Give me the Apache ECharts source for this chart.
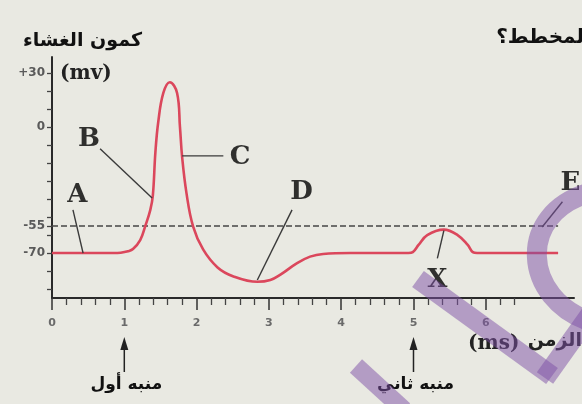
<!DOCTYPE html>
<html>
<head>
<meta charset="utf-8">
<script src="https://cdn.jsdelivr.net/npm/echarts@6/dist/echarts.min.js"></script>
<style>
  html, body { margin: 0; padding: 0; background: #e9e9e2; }
  #box { width: 582px; height: 404px; }
</style>
</head>
<body>
<div id="box"></div>
<script>
// membrane potential curve (time in ms, potential in mV)
var timeMs = [0, 0.85, 0.95, 1.05, 1.12, 1.22, 1.29, 1.36, 1.395, 1.43, 1.47, 1.54, 1.63, 1.73, 1.77, 1.80, 1.86, 1.95, 2.09, 2.29, 2.51, 2.84, 3.02, 3.16, 3.39, 3.57, 3.75, 4.13, 4.93, 4.99, 5.07, 5.19, 5.42, 5.61, 5.75, 5.82, 5.88, 7.0];
var potential = [-70, -70, -69.8, -69, -67.8, -62.8, -55, -46, -38, -14, 3, 19, 25, 19, 0, -16.7, -36.7, -55, -68, -78, -83, -86, -85, -82, -75.6, -72, -70.5, -70, -70, -69.5, -65.5, -60, -57, -60, -65.5, -69.5, -70, -70];

// threshold line
var threshold = -55;
var thresholdEnd = 7.0;

// axis ticks / labels
var yLabels = [30, 0, -55, -70];
var yTicks = [-90, -80, -70, -60, -55, -50, -40, -30, -20, -10, 0, 10, 20, 30];
var xLabels = [0, 1, 2, 3, 4, 5, 6];
var xMinorTicks = [0.2, 0.4, 0.6, 0.8, 1.2, 1.4, 1.6, 1.8, 2.2, 2.4, 2.6, 2.8, 3.2, 3.4, 3.6, 3.8, 4.2, 4.4, 4.6, 4.8, 5.2, 5.4, 5.6, 5.8, 6.2, 6.4];

// letter annotations and their pointer lines
var markNames = ['A', 'B', 'C', 'D', 'E', 'X'];
var markPos = [[0.35, -38], [0.51, -7], [2.60, -17], [3.45, -36], [7.17, -31], [5.33, -85]];
var leaderFrom = [[0.29, -46], [0.665, -12], [1.80, -16], [3.32, -46], [7.06, -41.5], [5.33, -73]];
var leaderTo = [[0.43, -70], [1.385, -39.4], [2.37, -16], [2.84, -85], [6.78, -55.5], [5.42, -57.5]];

// stimuli
var stimTimes = [1, 5];
var stimNames = ['منبه أول', 'منبه ثاني'];

var box = document.getElementById('box');
var myChart = echarts.init(box);

var series = [];
series.push({
  type: 'line',
  data: [[0, threshold], [thresholdEnd, threshold]],
  symbol: 'none',
  silent: true,
  lineStyle: { color: '#454545', width: 1.5, type: [6, 3] },
  z: 2
});
series.push({
  type: 'line',
  data: timeMs.map(function (t, i) { return [t, potential[i]]; }),
  symbol: 'none',
  smooth: 0.4,
  silent: true,
  lineStyle: { color: '#db475c', width: 2.6 },
  z: 3
});
for (var i = 0; i < markNames.length; i++) {
  series.push({
    type: 'line',
    data: [leaderFrom[i], leaderTo[i]],
    symbol: 'none',
    silent: true,
    lineStyle: { color: '#3a3a3a', width: 1.4 },
    z: 4
  });
}
series.push({
  type: 'scatter',
  symbolSize: 0,
  silent: true,
  data: markNames.map(function (n, i) { return { name: n, value: markPos[i] }; }),
  label: {
    show: true,
    position: 'inside',
    formatter: '{b}',
    fontFamily: 'DejaVu Serif',
    fontWeight: 'bold',
    fontSize: 26,
    color: '#000'
  },
  z: 5
});

var option = {
  backgroundColor: '#e9e9e2',
  animation: false,
  grid: { left: 52, right: 8, top: 57, height: 241 },
  xAxis: [{
    type: 'value',
    min: 0,
    max: 7.22,
    position: 'bottom',
    axisLine: { onZero: false, lineStyle: { color: '#2a2a2a', width: 2 } },
    axisTick: { customValues: xLabels, length: 12, lineStyle: { color: '#333', width: 1.5 } },
    axisLabel: {
      customValues: xLabels,
      margin: 20,
      fontFamily: 'DejaVu Sans',
      fontWeight: 'bold',
      fontSize: 11,
      color: '#6a6a6a'
    },
    splitLine: { show: false }
  }, {
    type: 'value',
    min: 0,
    max: 7.22,
    position: 'bottom',
    axisLine: { show: false, onZero: false },
    axisTick: { customValues: xMinorTicks, length: 7, lineStyle: { color: '#444', width: 1.3 } },
    axisLabel: { show: false },
    splitLine: { show: false }
  }],
  yAxis: {
    type: 'value',
    min: -95,
    max: 39,
    axisLine: { show: true, onZero: false, lineStyle: { color: '#2a2a2a', width: 2 } },
    axisTick: { customValues: yTicks, length: 5, lineStyle: { color: '#444', width: 1.3 } },
    axisLabel: {
      customValues: yLabels,
      margin: 7,
      fontFamily: 'DejaVu Sans',
      fontWeight: 'bold',
      fontSize: 12,
      color: '#5a5a5a',
      formatter: function (v) { return v > 0 ? '+' + v : String(v); }
    },
    splitLine: { show: false }
  },
  series: series
};
myChart.setOption(option);

// texts and stimulus arrows, placed from the axes
var graphics = [
  { type: 'text', x: 142, y: 41, style: { text: 'كمون الغشاء', font: 'bold 19px "DejaVu Sans"', fill: '#111', textAlign: 'right', textVerticalAlign: 'middle' } },
  { type: 'text', x: 60, y: 74, style: { text: '(mv)', font: 'bold 20px "DejaVu Serif"', fill: '#222', textAlign: 'left', textVerticalAlign: 'middle' } },
  { type: 'text', x: 584, y: 38, style: { text: 'لمخطط؟', font: 'bold 20px "DejaVu Sans"', fill: '#111', textAlign: 'right', textVerticalAlign: 'middle' } },
  { type: 'text', x: 468, y: 344, style: { text: '(ms)', font: 'bold 20px "DejaVu Serif"', fill: '#222', textAlign: 'left', textVerticalAlign: 'middle' } },
  { type: 'text', x: 582, y: 341, style: { text: 'الزمن', font: 'bold 19px "DejaVu Sans"', fill: '#222', textAlign: 'right', textVerticalAlign: 'middle' } }
];
stimTimes.forEach(function (t, i) {
  var px = myChart.convertToPixel({ xAxisIndex: 0 }, t);
  graphics.push({ type: 'line', shape: { x1: px, y1: 372, x2: px, y2: 345 }, style: { stroke: '#222', lineWidth: 1.5 } });
  graphics.push({ type: 'polygon', shape: { points: [[px, 337], [px - 4, 350], [px + 4, 350]] }, style: { fill: '#222' } });
  graphics.push({ type: 'text', x: px + 2, y: 385, style: { text: stimNames[i], font: 'bold 17px "DejaVu Sans"', fill: '#111', textAlign: 'center', textVerticalAlign: 'middle' } });
});

// purple watermark strokes on top
var wm = 'rgba(125, 80, 165, 0.5)';
graphics.push({ type: 'line', z: 100, shape: { x1: 418, y1: 279, x2: 552, y2: 376 }, style: { stroke: wm, lineWidth: 20, lineCap: 'butt' } });
graphics.push({ type: 'line', z: 100, shape: { x1: 545, y1: 378, x2: 592, y2: 312 }, style: { stroke: wm, lineWidth: 20, lineCap: 'butt' } });
graphics.push({ type: 'bezierCurve', z: 100, shape: { x1: 592, y1: 192, cpx1: 515, cpy1: 212, cpx2: 522, cpy2: 300, x2: 592, y2: 322 }, style: { stroke: wm, lineWidth: 20, fill: null } });
graphics.push({ type: 'line', z: 100, shape: { x1: 356, y1: 366, x2: 404, y2: 410 }, style: { stroke: wm, lineWidth: 18, lineCap: 'butt' } });

myChart.setOption({ graphic: graphics });
</script>
</body>
</html>
